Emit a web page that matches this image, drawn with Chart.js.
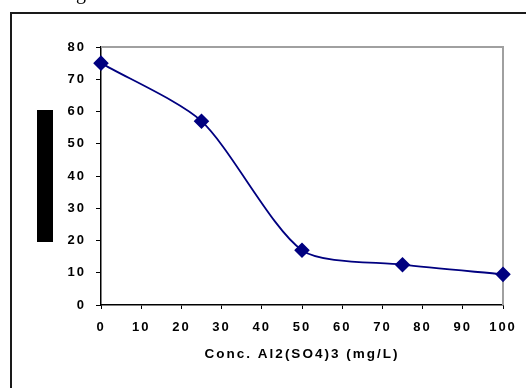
<!DOCTYPE html>
<html>
<head>
<meta charset="utf-8">
<script src="https://cdn.jsdelivr.net/npm/chart.js@4.4.0/dist/chart.umd.min.js"></script>
<style>
  html, body { margin: 0; padding: 0; background: #fff; }
  #wrap { width: 526px; height: 388px; position: relative; }
</style>
</head>
<body>
<div id="wrap"><canvas id="c" width="526" height="388"></canvas></div>
<script>
// ----------------------------
// Data
// ----------------------------
const concValues = [0, 25, 50, 75, 100];
const yValues = [75, 57, 17, 12.5, 9.5];
const xTitle = "Conc. Al2(SO4)3 (mg/L)";

const navy = "#000080";

// frame, hidden y title block and the cut-off caption above
const decorPlugin = {
    id: "decor",
    beforeDraw(chart) {
        const ctx = chart.ctx;
        ctx.letterSpacing = "2px";
        ctx.save();
        ctx.fillStyle = "#fff";
        ctx.fillRect(0, 0, chart.width, chart.height);
        ctx.strokeStyle = "#1a1a1a";
        ctx.lineWidth = 2;
        ctx.beginPath();
        ctx.moveTo(11, 388);
        ctx.lineTo(11, 13);
        ctx.lineTo(526, 13);
        ctx.stroke();
        ctx.fillStyle = "#000";
        ctx.fillRect(37, 110, 16, 132);
        ctx.font = "20px 'Liberation Serif'";
        ctx.letterSpacing = "0px";
        ctx.textBaseline = "alphabetic";
        ctx.fillText("g", 76, -1);
        ctx.restore();
    },
    beforeDatasetsDraw(chart) {
        const a = chart.chartArea;
        const ctx = chart.ctx;
        ctx.save();
        ctx.strokeStyle = "#a0a0a0";
        ctx.lineWidth = 2;
        ctx.beginPath();
        ctx.moveTo(a.left, a.top);
        ctx.lineTo(a.right, a.top);
        ctx.lineTo(a.right, a.bottom);
        ctx.stroke();
        ctx.restore();
    }
};

const tickFont = { family: "'Liberation Sans', Arial", size: 13, weight: "bold" };
const titleFont = { family: "'Liberation Sans', Arial", size: 13.5, weight: "bold" };

new Chart(document.getElementById("c"), {
    type: "line",
    data: {
        datasets: [{
            data: concValues.map((x, i) => ({ x: x, y: yValues[i] })),
            borderColor: navy,
            backgroundColor: navy,
            borderWidth: 1.8,
            pointStyle: "rectRot",
            pointRadius: 6.5,
            pointHoverRadius: 6.5,
            tension: 0.25,
            clip: false
        }]
    },
    options: {
        responsive: false,
        animation: false,
        devicePixelRatio: 1,
        layout: { padding: { left: 0, right: 23, top: 47, bottom: 22 } },
        plugins: { legend: { display: false }, tooltip: { enabled: false } },
        scales: {
            x: {
                type: "linear",
                min: 0, max: 100,
                ticks: { stepSize: 10, color: "#000", font: tickFont, padding: 11, maxRotation: 0, autoSkip: false },
                grid: { drawOnChartArea: false, color: "#000", tickLength: 4 },
                border: { color: "#000", width: 1.5 },
                title: { display: true, text: xTitle, color: "#000", font: titleFont, padding: { top: 4 } },
                afterFit(s) { s.height = 61; }
            },
            y: {
                min: 0, max: 80,
                ticks: { stepSize: 10, color: "#000", font: tickFont, padding: 10, autoSkip: false },
                grid: { drawOnChartArea: false, color: "#000", tickLength: 5 },
                border: { color: "#000", width: 1.5 },
                afterFit(s) { s.width = 101; }
            }
        }
    },
    plugins: [decorPlugin]
});
</script>
</body>
</html>
